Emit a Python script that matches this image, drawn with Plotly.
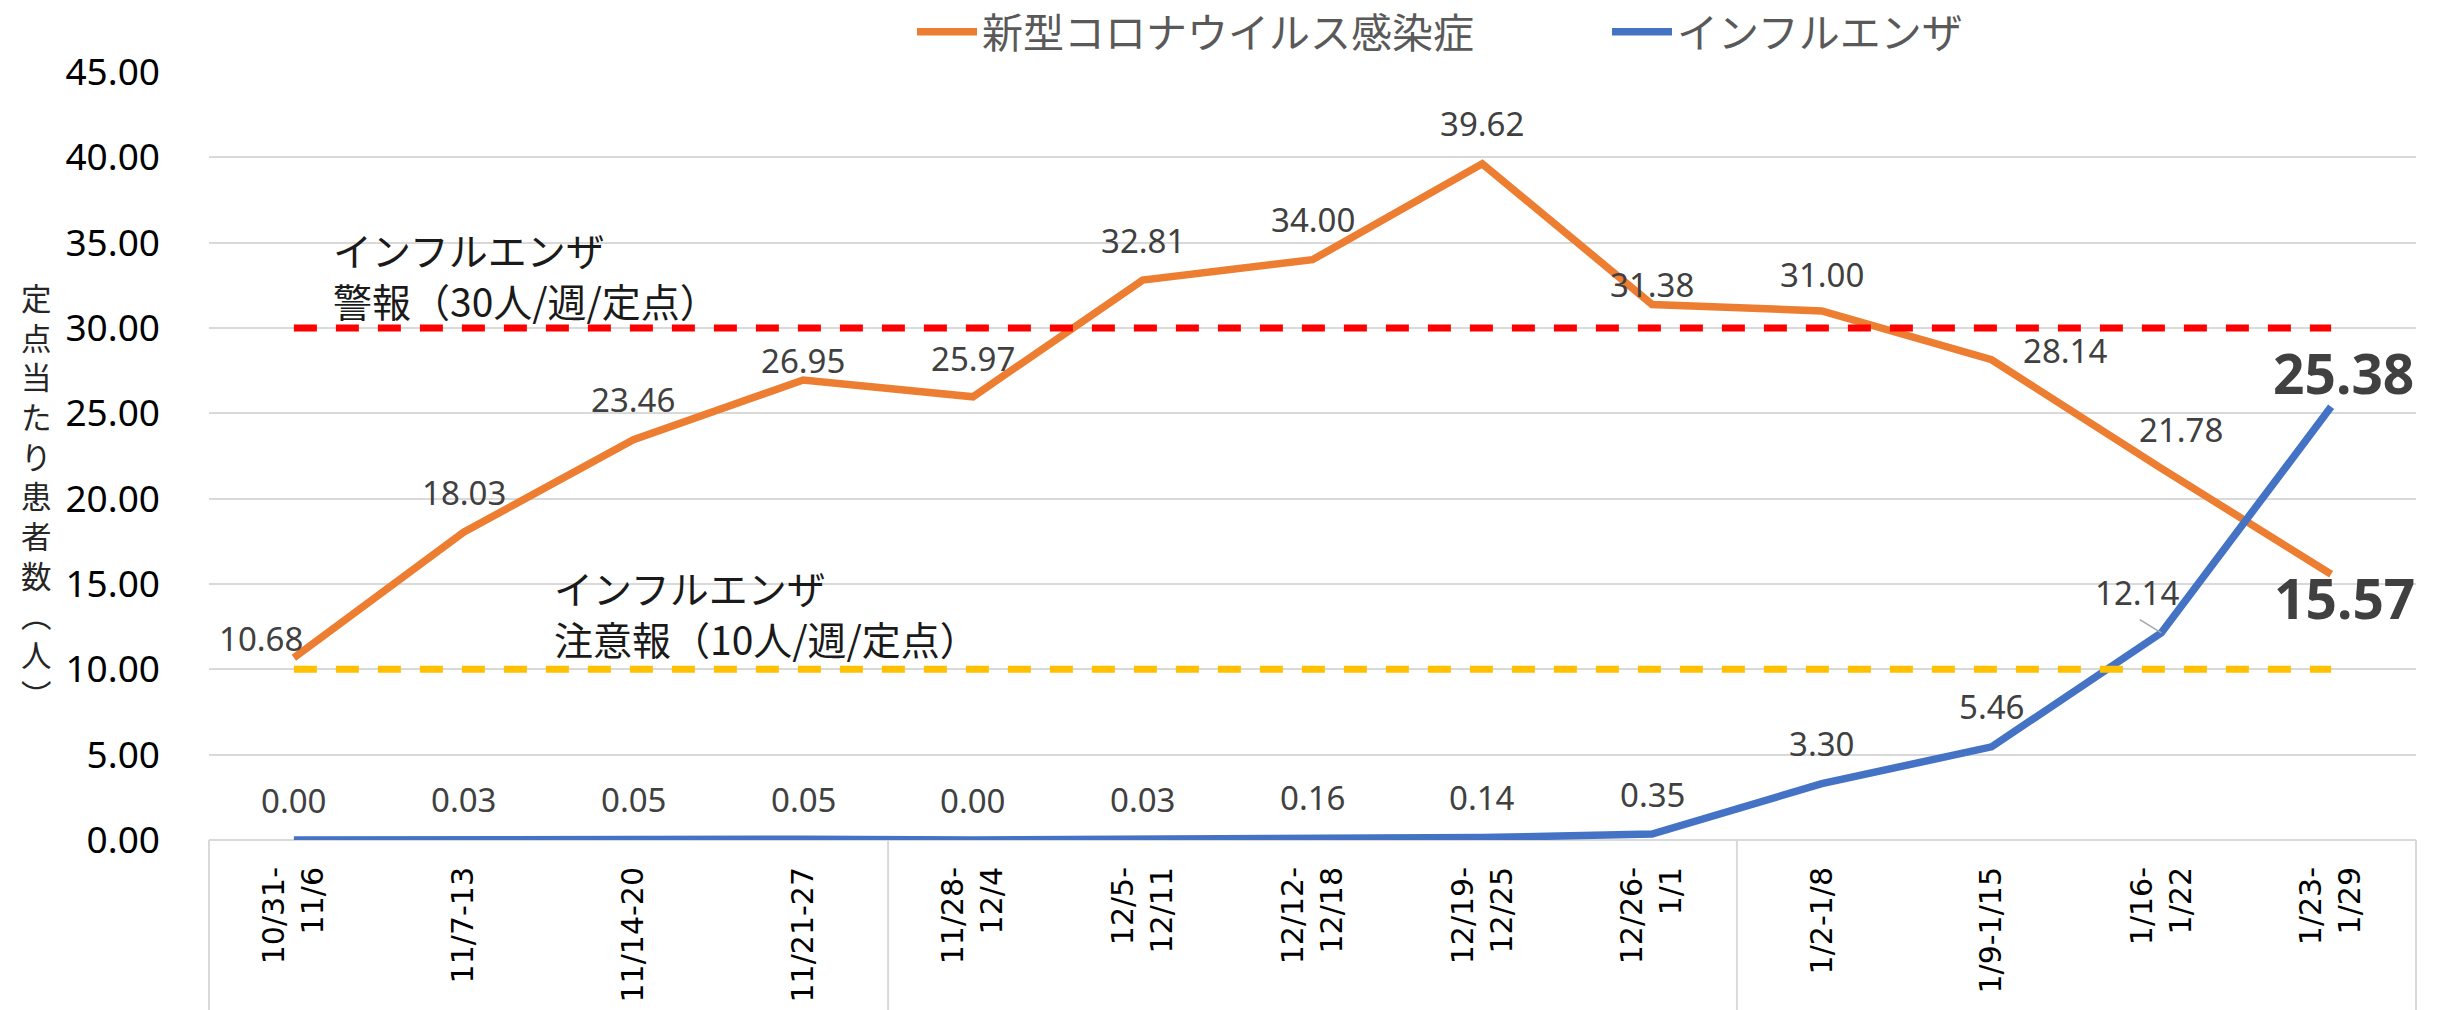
import plotly.graph_objects as go

# ---------------- data ----------------
categories = ["10/31-<br>11/6", "11/7-13", "11/14-20", "11/21-27",
              "11/28-<br>12/4", "12/5-<br>12/11", "12/12-<br>12/18", "12/19-<br>12/25",
              "12/26-<br>1/1", "1/2-1/8", "1/9-1/15", "1/16-<br>1/22", "1/23-<br>1/29"]
covid = [10.68, 18.03, 23.46, 26.95, 25.97, 32.81, 34.00, 39.62, 31.38, 31.00, 28.14, 21.78, 15.57]
flu = [0.00, 0.03, 0.05, 0.05, 0.00, 0.03, 0.16, 0.14, 0.35, 3.30, 5.46, 12.14, 25.38]
alert_level = [30] * 13
caution_level = [10] * 13
month_weeks = [4, 5, 4]  # weeks per month group (Nov, Dec, Jan)

series_names = ["新型コロナウイルス感染症", "インフルエンザ"]
alert_lines = ["インフルエンザ", "警報（30人/週/定点）"]
caution_lines = ["インフルエンザ", "注意報（10人/週/定点）"]
y_title = "定点当たり患者数︵人︶"

# ---------------- style ----------------
ORANGE = "#ED7D31"
BLUE = "#4472C4"
RED = "#FF0000"
YELLOW = "#FFC000"
GRID = "#D9D9D9"
LABEL = "#404040"
NUM_FONT = "Noto Sans"
JP_FONT = "Noto Sans CJK JP"

W, H = 2441, 1010
L, R, T, B = 209, 25, 72, 170
plot_h = H - T - B
plot_w = W - L - R

# label offsets (px, screen coords: +dx right, +dy down)
covid_off = [(-33, -19), (0, -40), (0, -40), (0, -20), (0, -38), (0, -40), (0, -40),
             (0, -40), (0, -20), (0, -36), (73, -9), (20, -39), (13, 23)]
flu_off = [(0, -40)] * 11 + [(-24, -40), (12, -34)]
bold_idx_covid = {12}
bold_idx_flu = {12}

fig = go.Figure()
fig.add_trace(go.Scatter(x=categories, y=covid, mode="lines", name=series_names[0],
                         line=dict(color=ORANGE, width=7.5)))
fig.add_trace(go.Scatter(x=categories, y=flu, mode="lines", name=series_names[1],
                         line=dict(color=BLUE, width=7.5)))
fig.add_trace(go.Scatter(x=categories, y=alert_level, mode="lines", showlegend=False,
                         line=dict(color=RED, width=7, dash="23px,19px")))
fig.add_trace(go.Scatter(x=categories, y=caution_level, mode="lines", showlegend=False,
                         line=dict(color=YELLOW, width=7, dash="23px,19px")))

ann = []
def add_labels(vals, offs, bold_set):
    for i, (v, (dx, dy)) in enumerate(zip(vals, offs)):
        bold = i in bold_set
        ann.append(dict(x=categories[i], y=v, xref="x", yref="y", text=f"{v:.2f}",
                        showarrow=False, xshift=dx, yshift=-dy,
                        xanchor="center", yanchor="middle",
                        font=dict(family=NUM_FONT, size=55 if bold else 33, color=LABEL,
                                  weight="bold" if bold else "normal")))
add_labels(covid, covid_off, bold_idx_covid)
add_labels(flu, flu_off, bold_idx_flu)

# leader line for 12.14
ann.append(dict(x=categories[11], y=flu[11], xref="x", yref="y", text="", showarrow=True,
                ax=-23, ay=-14, arrowhead=0, arrowwidth=1.5, arrowcolor="#A6A6A6",
                standoff=0, startstandoff=0))

# threshold texts (one annotation per line)
for xpos, level, lines, shifts in [(0.22, alert_level[0], alert_lines, (79, 28)),
                                   (1.52, caution_level[0], caution_lines, (82, 31))]:
    for txt, ys in zip(lines, shifts):
        ann.append(dict(x=xpos, y=level, xref="x", yref="y", text=txt, showarrow=False,
                        xanchor="left", yanchor="middle", align="left", yshift=ys,
                        font=dict(family=JP_FONT, size=39, color="#1a1a1a")))

# vertical y-axis title (one glyph per line)
ann.append(dict(x=(36 - L) / plot_w, y=(H - B - 496) / plot_h, xref="paper", yref="paper",
                text="<br>".join(y_title), showarrow=False, xanchor="center", yanchor="middle",
                align="center", font=dict(family=JP_FONT, size=30.5, color="#262626")))

# category axis separators (month groups)
shapes = []
n = len(categories)
bounds = [0]
for c in month_weeks:
    bounds.append(bounds[-1] + c)
for bnd in bounds:
    shapes.append(dict(type="line", xref="x domain", yref="paper",
                       x0=bnd / n, x1=bnd / n, y0=0, y1=-B / plot_h,
                       line=dict(color=GRID, width=2)))

fig.update_layout(
    width=W, height=H, autosize=False,
    margin=dict(l=L, r=R, t=T, b=B, pad=0, autoexpand=False),
    paper_bgcolor="white", plot_bgcolor="white",
    showlegend=True,
    legend=dict(orientation="h", x=(912 - L) / plot_w, xanchor="left",
                y=1 + (T - 32) / plot_h, yanchor="middle",
                font=dict(family=JP_FONT, size=41, color="#595959"),
                entrywidth=620, entrywidthmode="pixels",
                bgcolor="rgba(0,0,0,0)", itemwidth=60),
    annotations=ann,
    shapes=shapes,
)
fig.update_xaxes(type="category", range=[-0.5, n - 0.5], showgrid=False, zeroline=False,
                 showline=False, ticks="", tickangle=-90, ticklabelstandoff=20,
                 tickfont=dict(family="DejaVu Sans", size=30, color="black"))
fig.update_yaxes(range=[0, 45], dtick=5, tick0=0, tickformat=".2f", showgrid=True,
                 gridcolor=GRID, gridwidth=2, zeroline=True, zerolinecolor=GRID, zerolinewidth=2,
                 showline=False, ticks="", ticklabelstandoff=48,
                 tickfont=dict(family=NUM_FONT, size=37, color="black"))

fig.write_html("out.html", config={"displayModeBar": False},
               post_script="document.body.style.margin='0';document.body.style.overflow='hidden';")
